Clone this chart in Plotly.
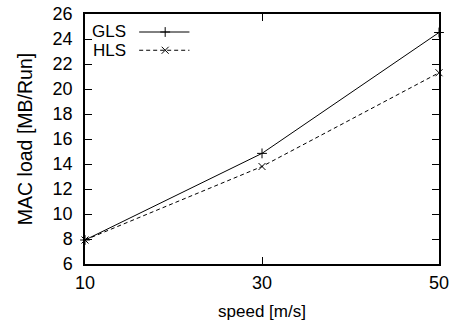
import plotly.graph_objects as go

speed = [10, 30, 50]
gls = [7.92, 14.85, 24.52]
hls = [7.92, 13.8, 21.3]
x_ticks = [10, 30, 50]
y_ticks = list(range(6, 27, 2))

FONT = "Liberation Sans, Arial, sans-serif"

fig = go.Figure()
fig.add_trace(go.Scatter(
    x=speed, y=gls, mode="lines+markers", name="GLS",
    line=dict(color="black", width=1),
    marker=dict(symbol="cross-thin-open", size=7, color="black",
                line=dict(width=1, color="black")),
    showlegend=False, cliponaxis=False))
fig.add_trace(go.Scatter(
    x=speed, y=hls, mode="lines+markers", name="HLS",
    line=dict(color="black", width=1, dash="4px,3px"),
    marker=dict(symbol="x-thin-open", size=7, color="black",
                line=dict(width=1, color="black")),
    showlegend=False, cliponaxis=False))

# manual gnuplot-style legend (text right-aligned, sample on right)
legend_items = [("GLS", "solid", "cross-thin-open", 7), ("HLS", "4px,3px", "x-thin-open", 7)]
legend_y = [0.928, 0.855]
for (name, dash, sym, sz), yy in zip(legend_items, legend_y):
    fig.add_annotation(xref="paper", yref="paper", x=0.122, y=yy, text=name,
                       showarrow=False, xanchor="right", yanchor="middle",
                       font=dict(family=FONT, size=17, color="black"))
    fig.add_shape(type="line", xref="paper", yref="paper",
                  x0=0.153, x1=0.295, y0=yy, y1=yy,
                  line=dict(color="black", width=1, dash=dash))
    fig.add_trace(go.Scatter(
        x=[0.2265], y=[yy], xaxis="x2", yaxis="y2", mode="markers",
        marker=dict(symbol=sym, size=sz, color="black", line=dict(width=1, color="black")),
        showlegend=False, hoverinfo="skip"))

fig.update_layout(
    width=455, height=327,
    margin=dict(l=85, r=16, t=14, b=63),
    paper_bgcolor="white", plot_bgcolor="white",
    font=dict(family=FONT, size=17, color="black"),
    showlegend=False,
    xaxis=dict(range=[10, 50], tickvals=x_ticks, ticks="inside", ticklen=7,
               tickwidth=1, tickcolor="black", showline=True, linewidth=1.5,
               linecolor="black", mirror="ticks", showgrid=False, zeroline=False,
               automargin=False,
               title=dict(text="speed [m/s]", font=dict(size=17), standoff=13),
               tickfont=dict(size=18), ticklabelstandoff=2),
    yaxis=dict(range=[6, 26], tickvals=y_ticks, ticks="inside", ticklen=7,
               tickwidth=1, tickcolor="black", showline=True, linewidth=1.5,
               linecolor="black", mirror="ticks", showgrid=False, zeroline=False,
               automargin=False,
               title=dict(text="MAC load [MB/Run]", font=dict(size=19.5), standoff=15),
               tickfont=dict(size=18), ticklabelstandoff=7),
    xaxis2=dict(domain=[0, 1], range=[0, 1], overlaying="x", visible=False, anchor="y2"),
    yaxis2=dict(domain=[0, 1], range=[0, 1], overlaying="y", visible=False, anchor="x2"),
)

fig.write_html("out.html")
